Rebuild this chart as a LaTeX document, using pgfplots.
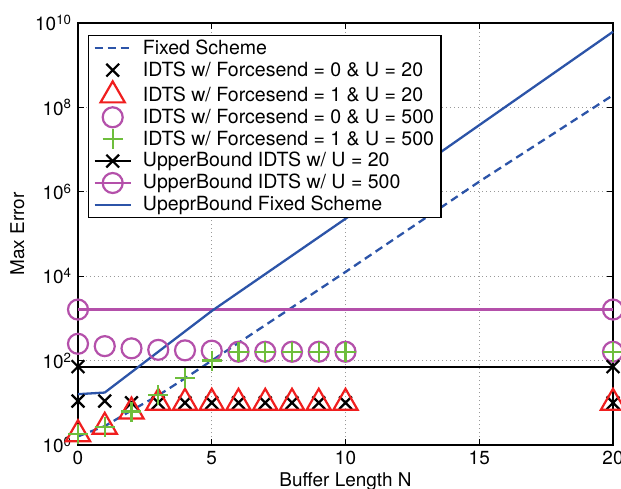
\documentclass[border=0pt]{standalone}
\usepackage{fontspec}
\setmainfont{TeX Gyre Heros}
\usepackage{pgfplots}
\pgfplotsset{compat=1.18}
\definecolor{myblue}{RGB}{44,84,168}
\definecolor{myred}{RGB}{240,30,30}
\definecolor{mypurple}{RGB}{180,80,170}
\definecolor{mygreen}{RGB}{110,190,60}
\begin{document}
\fontsize{19}{23}\selectfont
\begin{tikzpicture}
\begin{axis}[
  name=ax,
  scale only axis,
  width=535bp, height=422bp,
  xmin=0, xmax=20, ymin=1, ymax=1e10,
  ymode=log,
  xtick={0,5,10,15,20}, xticklabels={0,5,10,15,20},
  ytick={1,1e2,1e4,1e6,1e8,1e10},
  yticklabels={10\textsuperscript{0},10\textsuperscript{2},10\textsuperscript{4},10\textsuperscript{6},10\textsuperscript{8},10\textsuperscript{10}},
  yminorticks=false,
  tick label style={font=\fontsize{19}{23}\selectfont},
  major tick length=6bp,
  axis line style={line width=1.1bp},
  tick style={line width=0.9bp, black},
  grid=major,
  grid style={line width=0.8bp, gray!80, dash pattern=on 1bp off 3bp},
  clip=false,
  xlabel={Buffer Length N},
  ylabel={Max Error},
  label style={font=\fontsize{19}{23}\selectfont},
  xlabel style={yshift=5bp},
  ylabel style={yshift=-2bp},
  legend cell align=left,
  legend style={at={(axis description cs:0,1)}, anchor=north west, xshift=10bp, yshift=-12bp,
    font=\fontsize{19.6}{23}\selectfont, draw=black, line width=1.1bp, row sep=0.5bp,
    column sep=9bp, inner xsep=5bp, inner ysep=2bp},
  legend image code/.code={\draw[mark repeat=2,mark phase=2,#1] plot coordinates {(0bp,0bp) (18bp,0bp) (36bp,0bp)};},
]
\addplot[myblue, line width=2.3bp, dash pattern=on 8bp off 5bp] coordinates {
 (0,1.6) (1,2.8) (2,6.6) (3,15) (4,38) (5,100) (10,1.26e4) (15,1.74e6) (20,1.95e8)};
\addlegendentry{Fixed Scheme}
\addplot[only marks, mark=x, mark size=9bp, black, line width=2.2bp] coordinates {
 (0,11) (1,11) (2,10) (3,10) (4,10) (5,10) (6,10) (7,10) (8,10) (9,10) (10,10) (20,10)};
\addlegendentry{IDTS w/ Forcesend = 0 \& U = 20}
\addplot[only marks, mark=triangle, mark size=14bp, myred, line width=2.2bp] coordinates {
 (0,1.8) (1,2.7) (2,6.2) (3,10) (4,10) (5,10) (6,10) (7,10) (8,10) (9,10) (10,10) (20,10)};
\addlegendentry{IDTS w/ Forcesend = 1 \& U = 20}
\addplot[only marks, mark=o, mark size=10bp, mypurple, line width=2.2bp] coordinates {
 (0,250) (1,220) (2,195) (3,180) (4,175) (5,172) (6,162) (7,162) (8,162) (9,162) (10,162) (20,162)};
\addlegendentry{IDTS w/ Forcesend = 0 \& U = 500}
\addplot[only marks, mark=+, mark size=10bp, mygreen, line width=2.2bp] coordinates {
 (0,1.8) (1,2.7) (2,6.2) (3,15) (4,38) (5,100) (6,162) (7,162) (8,162) (9,162) (10,162) (20,162)};
\addlegendentry{IDTS w/ Forcesend = 1 \& U = 500}
\addplot[black, line width=2.2bp, mark=x, mark size=9bp] coordinates {(0,72) (20,72)};
\addlegendentry{UpperBound IDTS w/ U = 20}
\addplot[mypurple, line width=2.2bp, mark=o, mark size=10bp] coordinates {(0,1620) (20,1620)};
\addlegendentry{UpperBound IDTS w/ U = 500}
\addplot[myblue, line width=2.3bp] coordinates {
 (0,16) (1,17.5) (5,1500) (10,2.3e5) (15,3.8e7) (20,6.2e9)};
\addlegendentry{UpeprBound Fixed Scheme}
\end{axis}
\pgfresetboundingbox
\path ([shift={(-78bp,-44bp)}]ax.south west) rectangle ([shift={(8bp,23bp)}]ax.north east);
\end{tikzpicture}
\end{document}
